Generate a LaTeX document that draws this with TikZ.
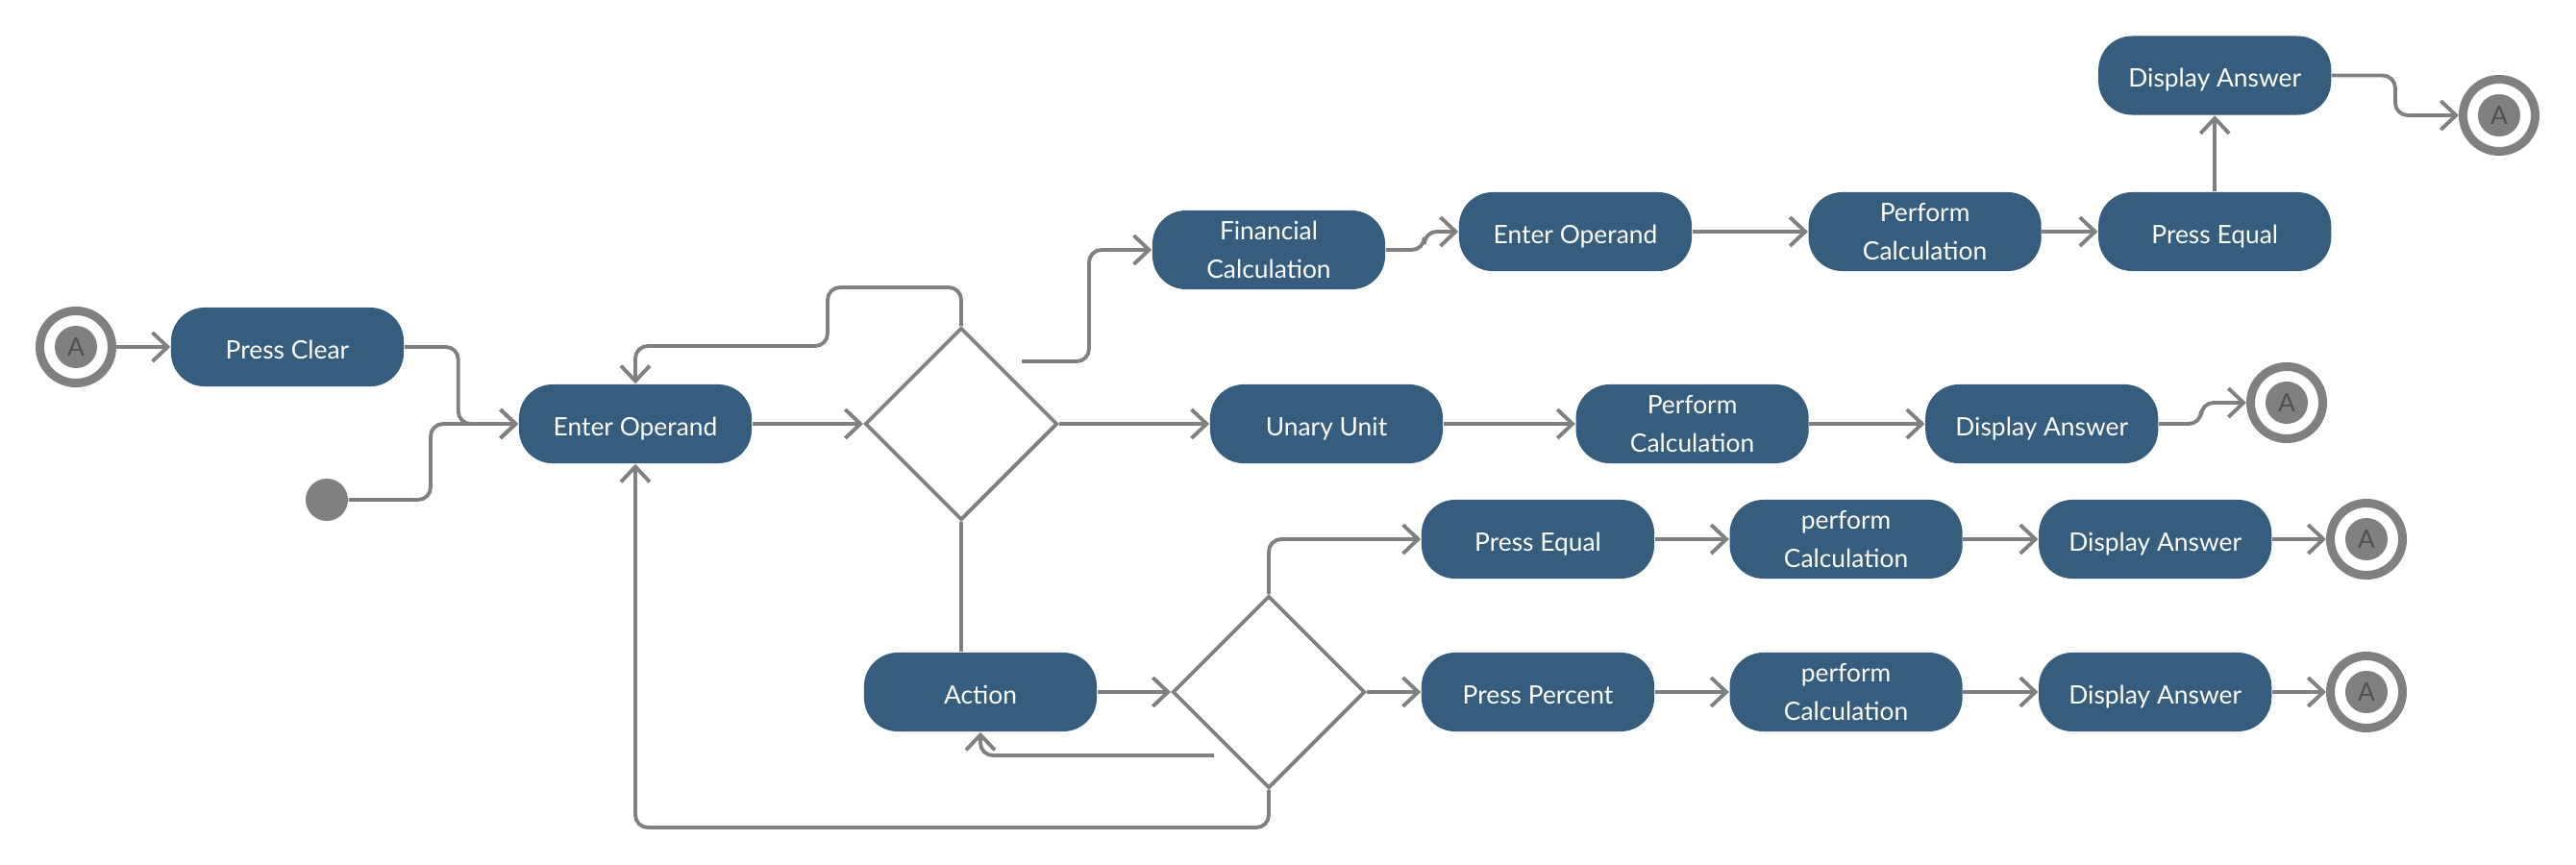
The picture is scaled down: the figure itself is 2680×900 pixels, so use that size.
\documentclass[tikz,border=0pt]{standalone}
\usepackage{fontspec}
\setmainfont{Lato}
\usepackage{tikz}
\usetikzlibrary{arrows.meta,positioning,calc,shapes.geometric}
\definecolor{actblue}{RGB}{54,92,126}
\definecolor{lngray}{RGB}{128,128,128}
\definecolor{txtgray}{RGB}{80,80,80}

\begin{document}
\begin{tikzpicture}[x=0.01cm, y=-0.01cm, >={Straight Barb[length=4.5pt,width=8.5pt]}]
    \tikzstyle{act}=[fill=actblue, rounded corners=0.35cm, minimum width=2.42cm, minimum height=0.82cm, inner sep=0pt, align=center, text=white, font=\fontsize{7.5}{11.4}\selectfont]
    \tikzstyle{oneline}=[act, text height=7pt, text depth=0pt]
    \tikzstyle{dec}=[draw=lngray, line width=1.1pt, diamond, minimum width=2cm, minimum height=2cm, inner sep=0pt]
    \tikzstyle{flow}=[draw=lngray, line width=1.1pt, rounded corners=0.13cm]
    \tikzstyle{endA}=[circle, draw=lngray, line width=0.09cm, fill=white, minimum size=0.75cm, inner sep=0pt, text=txtgray, font=\fontsize{7.5}{8}\selectfont, path picture={\fill[lngray] (path picture bounding box.center) circle (0.22cm);}]
    \useasboundingbox (0,0) rectangle (2680,900);

    % entry
    \node[endA] (startA) at (79,361) {A};
    \node[oneline] (clear) at (299,361) {Press Clear};
    \node[circle, fill=lngray, minimum size=0.44cm, inner sep=0pt] (dot) at (340,520) {};
    \node[oneline] (eo1) at (661,441) {Enter Operand};
    \node[dec] (d1) at (1000,441) {};
    \node[oneline] (act) at (1020,720) {Action};
    \node[dec] (d2) at (1320,720) {};

    % financial branch
    \node[act] (fin) at (1320,260) {Financial\\Calculation};
    \node[oneline] (eo2) at (1639,241) {Enter Operand};
    \node[act, right=1.2cm of eo2] (pc1) {Perform\\Calculation};
    \node[oneline, right=0.58cm of pc1] (peq1) {Press Equal};
    \node[oneline, above=0.79cm of peq1] (da1) {Display Answer};
    \node[endA] (endA1) at (2600,120) {A};

    % unary branch
    \node[oneline] (unary) at (1380,441) {Unary Unit};
    \node[act, right=1.37cm of unary] (pc2) {Perform\\Calculation};
    \node[oneline, right=1.2cm of pc2] (da2) {Display Answer};
    \node[endA] (endA2) at (2379,419) {A};

    % equal / percent branches
    \node[oneline] (peq2) at (1600,561) {Press Equal};
    \node[act, right=0.77cm of peq2] (pc3) {perform\\Calculation};
    \node[oneline, right=0.78cm of pc3] (da3) {Display Answer};
    \node[endA, right=0.56cm of da3] (endA3) {A};
    \node[oneline] (ppct) at (1600,720) {Press Percent};
    \node[act, right=0.77cm of ppct] (pc4) {perform\\Calculation};
    \node[oneline, right=0.78cm of pc4] (da4) {Display Answer};
    \node[endA, right=0.56cm of da4] (endA4) {A};

    \coordinate (d1out) at (1063,376);
    \coordinate (d2back) at (1263,786);

    \draw[flow,->] (startA) -- (clear);
    \draw[flow,->] (clear.east) -- ++(56,0) |- (eo1.west);
    \draw[flow,->] (dot) -- ++(108,0) |- (eo1.west);
    \draw[flow,->] (eo1) -- (d1);
    \draw[flow,->] (d1.north) -- ++(0,-40) -| (861,360) -| (eo1.north);
    \draw[flow,->] (d1out) -- (1133,376) |- (fin.west);
    \draw[flow,->] (d1.east) -- (unary.west);
    \draw[flow] (d1.south) -- (d1.south |- act.north);

    \draw[flow,->] (fin.east) -- ++(40,0) |- (eo2.west);
    \draw[flow,->] (eo2) -- (pc1);
    \draw[flow,->] (pc1) -- (peq1);
    \draw[flow,->] (peq1) -- (da1);
    \draw[flow,->] (da1.east) -- ++(66,0) |- (endA1.west);

    \draw[flow,->] (unary) -- (pc2);
    \draw[flow,->] (pc2) -- (da2);
    \draw[flow,->] (da2.east) -- ++(44,0) |- (endA2.west);

    \draw[flow,->] (act) -- (d2);
    \draw[flow,->] (d2back) -| (act.south);
    \draw[flow,->] (d2.south) -- ++(0,39) -| (eo1.south);
    \draw[flow,->] (d2.north) |- (peq2.west);
    \draw[flow,->] (d2.east) -- (ppct.west);

    \draw[flow,->] (peq2) -- (pc3);
    \draw[flow,->] (pc3) -- (da3);
    \draw[flow,->] (da3) -- (endA3);
    \draw[flow,->] (ppct) -- (pc4);
    \draw[flow,->] (pc4) -- (da4);
    \draw[flow,->] (da4) -- (endA4);
\end{tikzpicture}
\end{document}
